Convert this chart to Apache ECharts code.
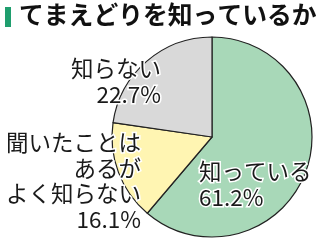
<!DOCTYPE html>
<html><head><meta charset="utf-8">
<script src="https://cdn.jsdelivr.net/npm/echarts@6/dist/echarts.min.js"></script>
<style>html,body{margin:0;padding:0;background:#fff}#c{width:320px;height:240px}</style>
</head><body><div id="c"></div>
<script>
const titleText = 'てまえどりを知っているか';
const categories = ['知っている', '聞いたことは\nあるが\nよく知らない', '知らない'];
const values = [61.2, 16.1, 22.7];
const colors = ['#a8d8b8', '#fff5b2', '#d9d9d9'];
const labelAnchors = [
  {x: 199, y: 159, align: 'left'},
  {x: 141, y: 130, align: 'right'},
  {x: 161, y: 56, align: 'right'}
];
const chart = echarts.init(document.getElementById('c'), null, {renderer: 'canvas'});
chart.setOption({
  animation: false,
  graphic: [
    {type: 'rect', shape: {x: 5, y: 7, width: 6, height: 20}, style: {fill: '#1f9e6e'}},
    {type: 'text', left: 19, top: 2, style: {text: titleText, font: 'bold 24.8px "Noto Sans CJK JP"', fill: '#111'}}
  ],
  series: [{
    type: 'pie',
    center: [212, 137],
    radius: 100,
    startAngle: 90,
    clockwise: true,
    silent: true,
    itemStyle: {borderColor: '#222', borderWidth: 1.2},
    label: {
      show: true,
      position: 'inside',
      formatter: p => p.name + '\n' + p.value.toFixed(1) + '%',
      fontFamily: 'Noto Sans CJK JP',
      fontSize: 22.5,
      lineHeight: 25.5,
      color: '#1a1a1a',
      textBorderColor: '#fff',
      textBorderWidth: 3
    },
    labelLayout: function (p) {
      const a = labelAnchors[p.dataIndex];
      return {x: a.x, y: a.y, align: a.align, verticalAlign: 'top'};
    },
    data: categories.map((c, i) => ({name: c, value: values[i], itemStyle: {color: colors[i]}}))
  }]
});
</script></body></html>
